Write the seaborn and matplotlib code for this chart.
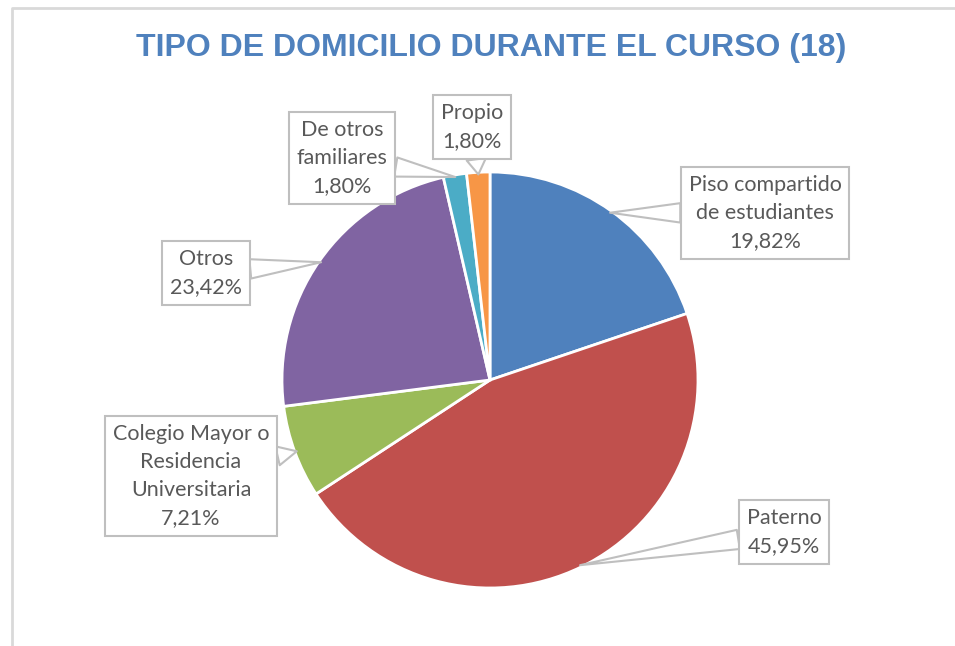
import numpy as np
import matplotlib.pyplot as plt
import seaborn as sns

# Data (clockwise from the top)
categories = ["Piso compartido\nde estudiantes", "Paterno",
              "Colegio Mayor o\nResidencia\nUniversitaria", "Otros",
              "De otros\nfamiliares", "Propio"]
percentages = [19.82, 45.95, 7.21, 23.42, 1.80, 1.80]
title = "TIPO DE DOMICILIO DURANTE EL CURSO (18)"

colors = ["#4F81BD", "#C0504D", "#9BBB59", "#8064A2", "#4BACC6", "#F79646"]

# label box centres in pixel coordinates (x from left, y from top)
label_pos = [(765, 213), (784, 532), (191, 476), (206, 273), (342, 158), (472, 127)]

W, H = 955, 646
sns.set_theme(style="white")
plt.rcParams["font.family"] = ["Lato", "DejaVu Sans"]

fig = plt.figure(figsize=(W / 100, H / 100), dpi=100)
ax = fig.add_axes([0, 0, 1, 1])

cx, cy, r = 490, H - 380, 208
wedges, _ = ax.pie(percentages, colors=colors, startangle=90, counterclock=False,
                   center=(cx, cy), radius=r, frame=True,
                   wedgeprops=dict(edgecolor="white", linewidth=2))
ax.set_xlim(0, W)
ax.set_ylim(0, H)
ax.set_aspect("equal")
ax.axis("off")

for w, cat, val, (lx, ly) in zip(wedges, categories, percentages, label_pos):
    ang = np.deg2rad((w.theta1 + w.theta2) / 2)
    tip = (cx + r * 0.99 * np.cos(ang), cy + r * 0.99 * np.sin(ang))
    txt = f"{cat}\n{val:.2f}%".replace(".", ",")
    ax.annotate(txt, xy=tip, xytext=(lx, H - ly), ha="center", va="center",
                fontsize=15.5, color="#595959", linespacing=1.5,
                bbox=dict(boxstyle="square,pad=0.35", fc="white", ec="#BFBFBF", lw=1.5),
                arrowprops=dict(arrowstyle="wedge,tail_width=0.9", fc="white",
                                ec="#BFBFBF", lw=1.5, shrinkA=0, shrinkB=0))

fig.text(491 / W, 1 - 48 / H, title, ha="center", va="center", fontsize=23,
         fontweight="bold", color="#4F81BD", family=["Liberation Sans", "DejaVu Sans"])

# chart frame (top and left edges visible)
fig.add_artist(plt.Line2D([12 / W, 12 / W, 1], [0, 1 - 8 / H, 1 - 8 / H],
                          transform=fig.transFigure, color="#D9D9D9", lw=2))

fig.savefig("out.png", dpi=100)
